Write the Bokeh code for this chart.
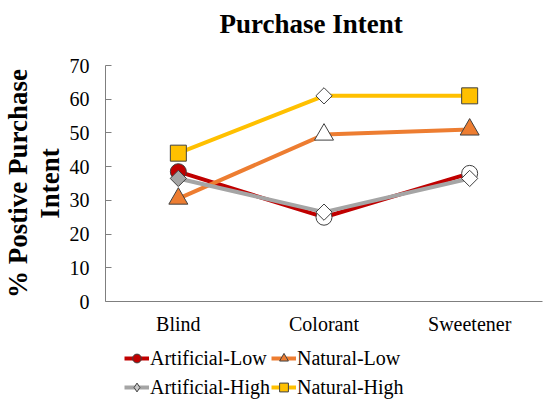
import math
from bokeh.plotting import figure
from bokeh.layouts import column
from bokeh.models import ColumnDataSource, Legend, LegendItem, Range1d, FixedTicker
from bokeh.embed import file_html
from bokeh.resources import INLINE

categories = ["Blind", "Colorant", "Sweetener"]
series_names = ["Artificial-Low", "Natural-Low", "Artificial-High", "Natural-High"]
artificial_low = [38.5, 25.0, 38.0]
natural_low = [30.5, 49.5, 51.0]
artificial_high = [36.5, 26.5, 36.5]
natural_high = [44.0, 61.0, 61.0]
y_ticks = [0, 10, 20, 30, 40, 50, 60, 70]

# styles
line_colors = ["#C00000", "#ED7D31", "#A5A5A5", "#FFC000"]
marker_shapes = [
    ["circle", "circle", "circle"],
    ["triangle", "triangle", "triangle"],
    ["square", "square", "square"],
    ["square", "square", "square"],
]
marker_angles = [
    [0, 0, 0],
    [0, 0, 0],
    [math.pi / 4, math.pi / 4, math.pi / 4],
    [0, math.pi / 4, 0],
]
marker_fills = [
    ["#C00000", "white", "white"],
    ["#ED7D31", "white", "#ED7D31"],
    ["#A5A5A5", "white", "white"],
    ["#FFC000", "white", "#FFC000"],
]
marker_sizes = [
    [16, 16, 16],
    [19, 19, 19],
    [11.5, 11.5, 11.5],
    [16, 11.5, 16],
]
legend_markers = ["circle", "triangle", "diamond", "square"]
legend_fills = ["#C00000", "#ED7D31", "#C8C8C8", "#FFC000"]
values = [artificial_low, natural_low, artificial_high, natural_high]

FONT = "Liberation Serif"

# title strip
t = figure(width=550, height=53, output_backend="svg", toolbar_location=None,
           x_axis_location=None, y_axis_location=None,
           min_border_left=104, min_border_right=8, min_border_top=0, min_border_bottom=0)
t.outline_line_color = None
t.grid.visible = False
t.title.text = "Purchase Intent"
t.title.text_font = FONT
t.title.text_font_size = "27px"
t.title.text_font_style = "bold"
t.title.align = "left"
t.title.offset = 114
t.title.standoff = 12
t.title.text_color = "black"

p = figure(x_range=categories, y_range=Range1d(0, 70), width=550, height=287,
           output_backend="svg", toolbar_location=None,
           min_border_left=104, min_border_right=8, min_border_top=12, min_border_bottom=39)
p.outline_line_color = None
p.grid.visible = False
p.background_fill_color = "white"

yax = p.yaxis[0]
yax.ticker = FixedTicker(ticks=y_ticks)
yax.major_label_text_font = FONT
yax.major_label_text_font_size = "20px"
yax.major_label_text_color = "black"
yax.major_tick_in = 6
yax.major_tick_out = 0
yax.minor_tick_in = 0
yax.minor_tick_out = 0
yax.major_label_standoff = 16
yax.axis_line_color = "#7F7F7F"
yax.major_tick_line_color = "#7F7F7F"
yax.axis_label = "% Postive Purchase\nIntent"
yax.axis_label_text_font = FONT
yax.axis_label_text_font_size = "27px"
yax.axis_label_text_font_style = "bold"
yax.axis_label_text_color = "black"
yax.axis_label_standoff = 2
yax.axis_label_text_line_height = 1.04

xax = p.xaxis[0]
xax.major_label_text_font = FONT
xax.major_label_text_font_size = "20px"
xax.major_label_text_color = "black"
xax.major_tick_in = 0
xax.major_tick_out = 0
xax.major_label_standoff = 11
xax.axis_line_color = "#7F7F7F"

# legend strip (its renderers lie outside its visible range; only the legend shows)
leg = figure(x_range=categories, y_range=Range1d(1000, 1001), width=550, height=66,
             output_backend="svg", toolbar_location=None,
             x_axis_location=None, y_axis_location=None,
             min_border_left=104, min_border_right=8, min_border_top=0, min_border_bottom=0)
leg.outline_line_color = None
leg.grid.visible = False

items = {}
for name, vals, col, shapes, angles, fills, sizes, lm, lf in zip(
        series_names, values, line_colors, marker_shapes, marker_angles,
        marker_fills, marker_sizes, legend_markers, legend_fills):
    src = ColumnDataSource(dict(x=categories, y=vals, marker=shapes, angle=angles,
                                fill=fills, size=sizes))
    p.line("x", "y", source=src, line_color=col, line_width=4)
    p.scatter("x", "y", source=src, marker="marker", size="size", angle="angle",
              fill_color="fill", line_color="#404040", line_width=1)
    lr = leg.line("x", "y", source=src, line_color=col, line_width=4)
    sr = leg.scatter("x", "y", source=src, marker=lm, size=10,
                     fill_color=lf, line_color="#404040", line_width=1)
    items[name] = LegendItem(label=name, renderers=[lr, sr])

# column-major grid: first column = Artificial-*, second = Natural-*
order = ["Artificial-Low", "Artificial-High", "Natural-Low", "Natural-High"]
legend = Legend(items=[items[n] for n in order], ncols=2, location=(19, 5))
legend.label_text_font = FONT
legend.label_text_font_size = "20px"
legend.label_text_color = "black"
legend.glyph_width = 25
legend.glyph_height = 22
legend.label_standoff = 1
legend.label_height = 28
legend.spacing = 1
legend.padding = 0
legend.margin = 0
legend.border_line_color = None
legend.background_fill_alpha = 0
leg.add_layout(legend)

layout = column(t, p, leg, spacing=0)
open("out.html", "w").write(file_html(layout, INLINE))
